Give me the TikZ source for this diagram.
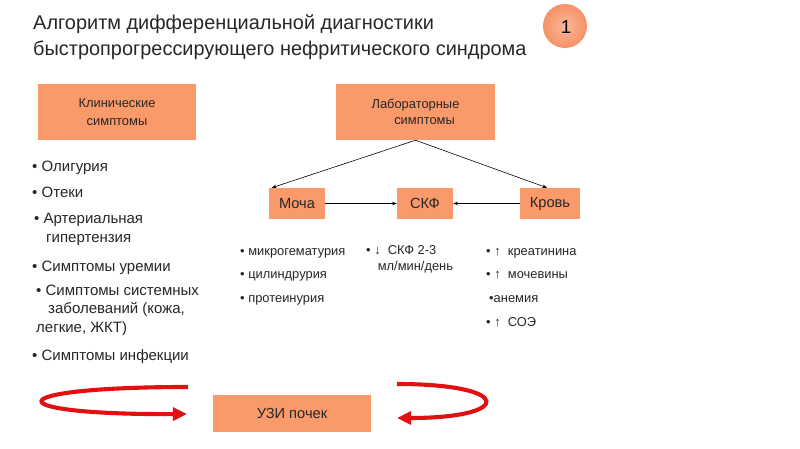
\documentclass[tikz,border=0pt]{standalone}
\usepackage{fontspec}
\setmainfont{Liberation Sans}
\usetikzlibrary{arrows.meta}
\definecolor{boxfill}{RGB}{250,154,106}
\definecolor{ballfill}{RGB}{245,146,104}
\definecolor{swirl}{RGB}{226,16,16}
\tikzset{
  box/.style={fill=boxfill, inner sep=0pt, align=center, text=black!85},
  item/.style={anchor=base west, inner sep=0pt, align=left, text=black!85},
  link/.style={-{Stealth[length=4pt,width=3pt]}, black, line width=0.5pt},
  swirlarrow/.style={swirl, line width=3.5pt, -{Triangle[length=12pt,width=11pt]}}
}
\begin{document}
\begin{tikzpicture}[x=0.03cm,y=-0.03cm]
  \useasboundingbox (0,0) rectangle (800,449);
  % title and number
  \node[item, anchor=north west, font=\fontsize{17}{22.3}\selectfont] (title) at (33,14)
    {Алгоритм дифференциальной диагностики\\быстропрогрессирующего нефритического синдрома};
  \shade[inner color=boxfill!70!white, outer color=ballfill] (565,26) circle[radius=22];
  \node[font=\fontsize{16}{18}\selectfont] (num) at (566,27) {1};
  % boxes
  \node[box, minimum width=158*0.03cm, minimum height=56*0.03cm,
        font=\fontsize{11}{15.8}\selectfont] (klin) at (117,112) {Клинические\\симптомы};
  \node[box, minimum width=159*0.03cm, minimum height=56*0.03cm,
        font=\fontsize{11}{13.4}\selectfont] (lab) at (415.5,112) {Лабораторные\\\hspace*{1.4em}симптомы};
  \node[box, minimum width=56*0.03cm, minimum height=31*0.03cm,
        font=\fontsize{12.5}{14}\selectfont] (mocha) at (297,203.5) {Моча};
  \node[box, minimum width=56*0.03cm, minimum height=31*0.03cm,
        font=\fontsize{12.5}{14}\selectfont] (skf) at (425,203.5) {СКФ};
  \node[box, minimum width=60*0.03cm, minimum height=31*0.03cm,
        font=\fontsize{12.5}{14}\selectfont] (krov) at (550,203.5) {Кровь};
  \node[box, minimum width=158*0.03cm, minimum height=37*0.03cm,
        font=\fontsize{12.5}{14}\selectfont] (uzi) at (292,413.5) {УЗИ почек};
  \path (lab.south) ++(0,0) coordinate (labfoot);
  % connectors
  \draw[link] (labfoot) -- ([xshift=3*0.03cm]mocha.north west);
  \draw[link] (labfoot) -- ([xshift=-3*0.03cm]krov.north);
  \draw[link] (mocha) -- (skf);
  \draw[link] (krov) -- (skf);
  % clinical symptoms
  \node[item, font=\fontsize{12.8}{16.2}\selectfont] (k1) at (32,171) {• Олигурия};
  \node[item, font=\fontsize{12.8}{16.2}\selectfont] (k2) at (32,197) {• Отеки};
  \node[item, font=\fontsize{12.8}{16.2}\selectfont] (k3) at (34,242) {• Артериальная\\\hspace*{0.8em}гипертензия};
  \node[item, font=\fontsize{12.8}{16.2}\selectfont] (k4) at (32,271) {• Симптомы уремии};
  \node[item, font=\fontsize{12.8}{15.4}\selectfont] (k5) at (36,332) {• Симптомы системных\\\hspace*{0.8em}заболеваний (кожа,\\легкие, ЖКТ)};
  \node[item, font=\fontsize{12.8}{16.2}\selectfont] (k6) at (32,360) {• Симптомы инфекции};
  % laboratory symptoms
  \begin{scope}[font=\fontsize{11}{13.6}\selectfont]
    \node[item] (m1) at (240,255) {• микрогематурия};
    \node[item] (m2) at (240,278) {• цилиндрурия};
    \node[item] (m3) at (240,302) {• протеинурия};
    \node[item] (s1) at (366,270) {• ↓ \ СКФ 2-3\\\hspace*{0.9em}мл/мин/день};
    \node[item] (r1) at (486,255) {• ↑ \ креатинина};
    \node[item] (r2) at (486,278) {• ↑ \ мочевины};
    \node[item] (r3) at (489,302) {•анемия};
    \node[item] (r4) at (486,326) {• ↑ \ СОЭ};
  \end{scope}
  % swirling arrows round the ultrasound box
  \coordinate (lstart) at (188,387);
  \coordinate (lend) at (187,414);
  \coordinate (rstart) at (397,384);
  \coordinate (rend) at (397,418);
  \draw[swirlarrow] (lstart) .. controls (-5,387) and (-5,415) .. (lend);
  \draw[swirlarrow] (rstart) .. controls (514,384) and (514,418) .. (rend);
\end{tikzpicture}
\end{document}
